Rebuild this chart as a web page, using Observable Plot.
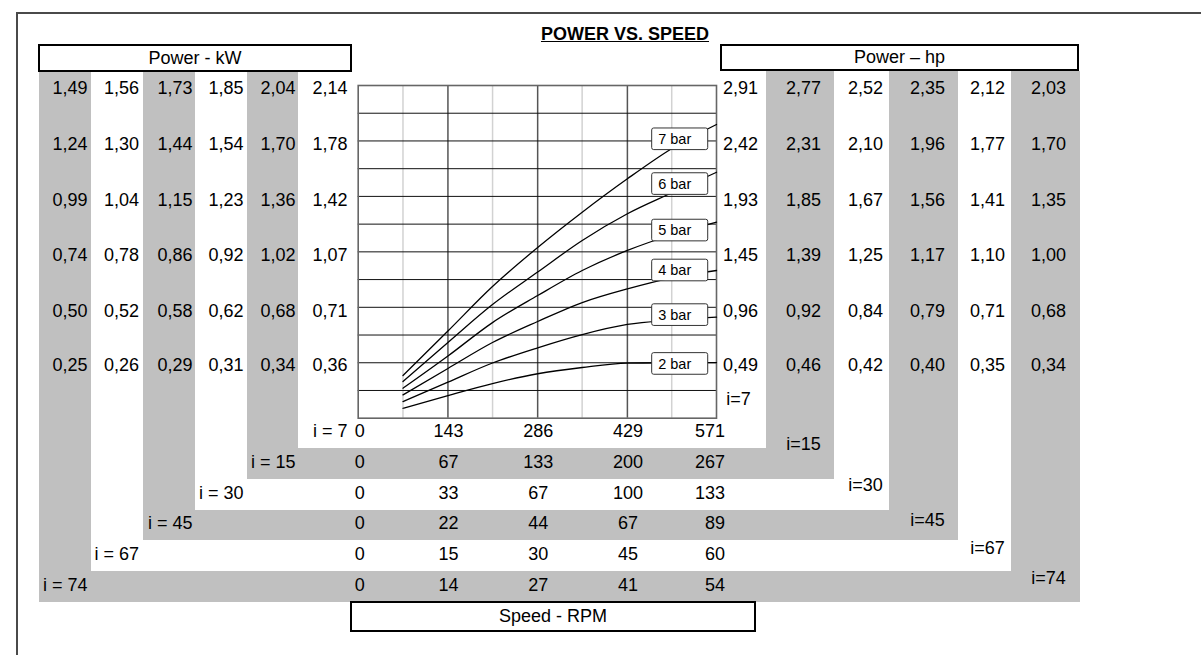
<!DOCTYPE html>
<html>
<head>
<meta charset="utf-8">
<script src="https://cdn.jsdelivr.net/npm/d3@7"></script>
<script src="https://cdn.jsdelivr.net/npm/@observablehq/plot@0.6"></script>
<style>
  body { margin: 0; background: #fff; }
  #wrap { position: relative; width: 1201px; height: 655px; overflow: hidden; background: #fff;
          font-family: "Liberation Sans", Arial, Helvetica, sans-serif; color: #000; }
  .g { position: absolute; background: #c0c0c0; }
  .box { position: absolute; box-sizing: border-box; border: 2.5px solid #000; background: #fff;
         display: flex; align-items: center; justify-content: center; font-size: 18px; }
  #frameLine { position: absolute; left: 16px; top: 12px; width: 1400px; height: 800px;
               border-left: 2px solid #4a4a4a; border-top: 2px solid #4a4a4a; }
  #title { position: absolute; left: 425px; width: 400px; top: 24.5px; text-align: center;
           font-size: 18px; line-height: 18px; font-weight: bold; text-decoration: underline; }
  #chart { position: absolute; left: 0; top: 0; }
</style>
</head>
<body>
<div id="wrap">
  <div id="frameLine"></div>
  <div id="title">POWER VS. SPEED</div>
  <!-- gray L-shaped bands of the ratio table -->
  <div class="g" style="left:39px;top:72px;width:52px;height:530px"></div>
  <div class="g" style="left:39px;top:571px;width:1041px;height:31px"></div>
  <div class="g" style="left:1011px;top:71px;width:69px;height:531px"></div>
  <div class="g" style="left:143px;top:72px;width:52px;height:468px"></div>
  <div class="g" style="left:143px;top:510px;width:815px;height:30px"></div>
  <div class="g" style="left:889px;top:71px;width:69px;height:469px"></div>
  <div class="g" style="left:247px;top:72px;width:51px;height:407px"></div>
  <div class="g" style="left:247px;top:448px;width:587px;height:31px"></div>
  <div class="g" style="left:766px;top:71px;width:68px;height:408px"></div>
  <div class="box" style="left:38px;top:44px;width:314px;height:28px">Power - kW</div>
  <div class="box" style="left:720px;top:44px;width:359px;height:27px">Power – hp</div>
  <div class="box" style="left:350px;top:601px;width:406px;height:31px">Speed - RPM</div>
  <div id="chart"></div>
</div>
<script>
// ---------- data ----------
const ratioLabels = ["7", "15", "30", "45", "67", "74"];

// Power in kW per gear ratio (rows top to bottom)
const kw_i7  = [2.14, 1.78, 1.42, 1.07, 0.71, 0.36];
const kw_i15 = [2.04, 1.70, 1.36, 1.02, 0.68, 0.34];
const kw_i30 = [1.85, 1.54, 1.23, 0.92, 0.62, 0.31];
const kw_i45 = [1.73, 1.44, 1.15, 0.86, 0.58, 0.29];
const kw_i67 = [1.56, 1.30, 1.04, 0.78, 0.52, 0.26];
const kw_i74 = [1.49, 1.24, 0.99, 0.74, 0.50, 0.25];

// Power in hp per gear ratio
const hp_i7  = [2.91, 2.42, 1.93, 1.45, 0.96, 0.49];
const hp_i15 = [2.77, 2.31, 1.85, 1.39, 0.92, 0.46];
const hp_i30 = [2.52, 2.10, 1.67, 1.25, 0.84, 0.42];
const hp_i45 = [2.35, 1.96, 1.56, 1.17, 0.79, 0.40];
const hp_i67 = [2.12, 1.77, 1.41, 1.10, 0.71, 0.35];
const hp_i74 = [2.03, 1.70, 1.35, 1.00, 0.68, 0.34];

// Speed in RPM per gear ratio
const rpm_i7  = [0, 143, 286, 429, 571];
const rpm_i15 = [0, 67, 133, 200, 267];
const rpm_i30 = [0, 33, 67, 100, 133];
const rpm_i45 = [0, 22, 44, 67, 89];
const rpm_i67 = [0, 15, 30, 45, 60];
const rpm_i74 = [0, 14, 27, 41, 54];

// Curves: output power (kW, at i = 7) versus speed (RPM, at i = 7)
const curveRpm = [71.4, 143, 214, 286, 357, 429, 500, 571];
const bar7 = [0.275, 0.561, 0.847, 1.098, 1.325, 1.540, 1.735, 1.889];
const bar6 = [0.236, 0.487, 0.731, 0.940, 1.143, 1.315, 1.450, 1.582];
const bar5 = [0.193, 0.400, 0.615, 0.789, 0.950, 1.079, 1.180, 1.261];
const bar4 = [0.150, 0.320, 0.487, 0.622, 0.744, 0.832, 0.903, 0.950];
const bar3 = [0.107, 0.232, 0.355, 0.453, 0.538, 0.603, 0.631, 0.650];
const bar2 = [0.064, 0.146, 0.223, 0.286, 0.326, 0.354, 0.357, 0.358];
const curveNames = ["7 bar", "6 bar", "5 bar", "4 bar", "3 bar", "2 bar"];
const labelKw = [1.794, 1.506, 1.207, 0.950, 0.663, 0.349];

// ---------- build ----------
const fmt = v => v.toFixed(2).replace(".", ",");
const series = [bar7, bar6, bar5, bar4, bar3, bar2];
const curveData = series.flatMap((s, j) => s.map((kw, k) => ({bar: curveNames[j], rpm: curveRpm[k], kw})));

const W = 1201, H = 655, ML = 357.7, MR = 485, MT = 85, MB = 237.3;
const frameBottom = H - MB, frameRight = W - MR;
const xMax = rpm_i7[rpm_i7.length - 1];
const yMax = kw_i7[0];
const majorX = rpm_i7.slice(1, -1);
const minorX = d3.range(4).map(k => (k + 0.5) * xMax / 4);
const gridY = d3.range(1, 12).map(k => k * yMax / 12);
const boxHalf = yMax / 12 * 0.39;
const boxLeft = 468.5, boxRight = 557.8;

const leftCols = [kw_i74, kw_i67, kw_i45, kw_i30, kw_i15, kw_i7];
const leftRight = [87, 138.5, 192, 243, 295, 347];
const rightCols = [hp_i7, hp_i15, hp_i30, hp_i45, hp_i67, hp_i74];
const rightCenter = [740, 803, 865, 927, 987, 1048];
const rpmRows = [rpm_i7, rpm_i15, rpm_i30, rpm_i45, rpm_i67, rpm_i74];
const rowY = [436.5, 467.8, 498.8, 528.5, 559.8, 590.5];
const rightLabelY = [404, 449.7, 490, 525, 553.3, 583.3];

const marks = [
  Plot.ruleX(minorX, {stroke: "#d2d2d2", strokeWidth: 1.5}),
  Plot.ruleX(majorX, {stroke: "#555", strokeWidth: 1.5}),
  Plot.ruleY(gridY, {stroke: "#111", strokeWidth: 1}),
  Plot.frame({stroke: "#666", strokeWidth: 1.6}),
  Plot.line(curveData, {x: "rpm", y: "kw", z: "bar", curve: "monotone-x", stroke: "#000", strokeWidth: 1.3}),
  Plot.rect(curveNames.map((n, j) => ({n, c: labelKw[j]})), {
    x1: () => boxLeft, x2: () => boxRight, y1: d => d.c - boxHalf, y2: d => d.c + boxHalf,
    fill: "#fff", stroke: "#333", strokeWidth: 1, rx: 2
  }),
  Plot.text(curveNames.map((n, j) => ({n, c: labelKw[j]})), {
    x: () => boxLeft, y: "c", text: "n", dx: 6, textAnchor: "start", fontSize: 14.5
  })
];

// kW columns (left)
leftCols.forEach((col, c) => {
  marks.push(Plot.text(kw_i7.map((pos, r) => ({pos, lab: fmt(col[r])})), {
    y: "pos", text: "lab", frameAnchor: "left", textAnchor: "end", dx: leftRight[c] - ML, dy: 3, fontSize: 18
  }));
});
// hp columns (right)
rightCols.forEach((col, c) => {
  marks.push(Plot.text(kw_i7.map((pos, r) => ({pos, lab: fmt(col[r])})), {
    y: "pos", text: "lab", frameAnchor: "right", textAnchor: "middle", dx: rightCenter[c] - frameRight, dy: 3, fontSize: 18
  }));
});
// RPM rows (bottom)
rpmRows.forEach((row, r) => {
  const d = rpm_i7.map((pos, k) => ({pos, lab: String(row[k]), k}));
  marks.push(Plot.text(d.slice(0, 1), {x: "pos", text: "lab", frameAnchor: "bottom", dx: 1.5, dy: rowY[r] - frameBottom, fontSize: 18}));
  marks.push(Plot.text(d.slice(1, -1), {x: "pos", text: "lab", frameAnchor: "bottom", dx: 0.5, dy: rowY[r] - frameBottom, fontSize: 18}));
  marks.push(Plot.text(d.slice(-1), {x: "pos", text: "lab", frameAnchor: "bottom", textAnchor: "end", dx: 8.5, dy: rowY[r] - frameBottom, fontSize: 18}));
  // ratio label on the left of each row
  marks.push(Plot.text([`i = ${ratioLabels[r]}`], {
    frameAnchor: "bottom-left", textAnchor: "end", dx: leftRight[5 - r] - ML, dy: rowY[r] - frameBottom, fontSize: 18
  }));
  // ratio label in the right columns
  marks.push(Plot.text([`i=${ratioLabels[r]}`], {
    frameAnchor: "bottom-right", textAnchor: "middle", dx: rightCenter[r] - frameRight - (r === 0 ? 2 : 0), dy: rightLabelY[r] - frameBottom, fontSize: 18
  }));
});

const chart = Plot.plot({
  width: W, height: H,
  marginLeft: ML, marginRight: MR, marginTop: MT, marginBottom: MB,
  x: {domain: [0, xMax], axis: null},
  y: {domain: [0, yMax], axis: null},
  style: {background: "transparent", fontFamily: "Liberation Sans, Arial, Helvetica, sans-serif", color: "#000", overflow: "visible"},
  marks
});
document.getElementById("chart").appendChild(chart);
</script>
</body>
</html>
